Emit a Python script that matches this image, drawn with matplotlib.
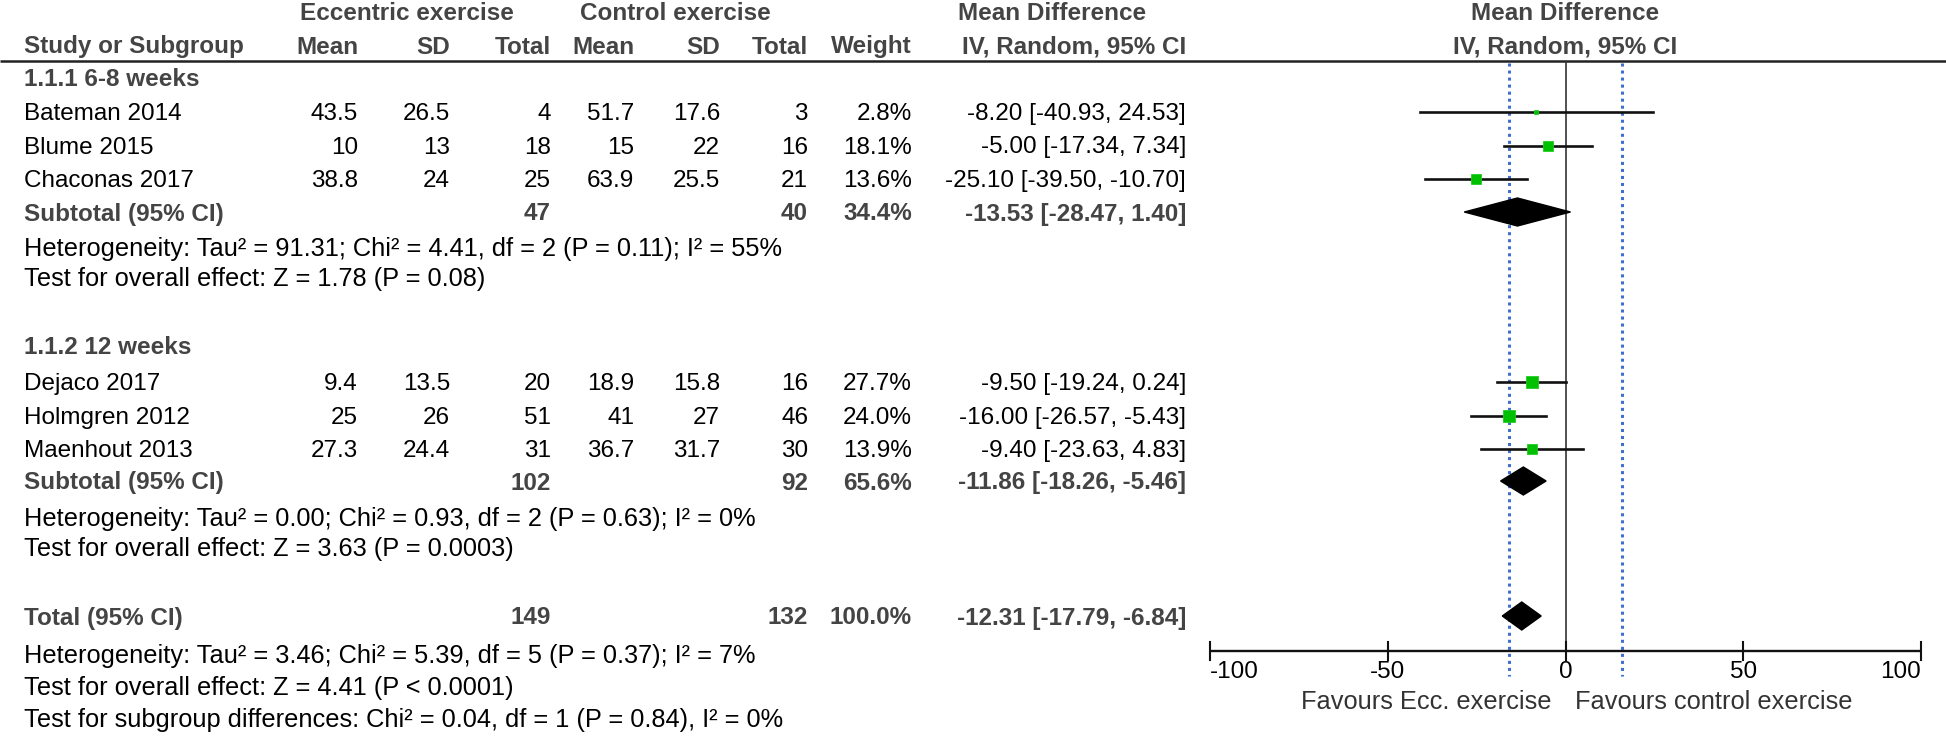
import matplotlib.pyplot as plt
from matplotlib.patches import Polygon

plt.rcParams['font.family'] = ['Liberation Sans', 'DejaVu Sans']

# Study data: eccentric exercise vs control exercise
studies = ["Bateman 2014", "Blume 2015", "Chaconas 2017",
           "Dejaco 2017", "Holmgren 2012", "Maenhout 2013"]
study_group = [0, 0, 0, 1, 1, 1]
ecc_mean = [43.5, 10, 38.8, 9.4, 25, 27.3]
ecc_sd = [26.5, 13, 24, 13.5, 26, 24.4]
ecc_n = [4, 18, 25, 20, 51, 31]
ctl_mean = [51.7, 15, 63.9, 18.9, 41, 36.7]
ctl_sd = [17.6, 22, 25.5, 15.8, 27, 31.7]
ctl_n = [3, 16, 21, 16, 46, 30]
weight = [2.8, 18.1, 13.6, 27.7, 24.0, 13.9]
md = [-8.20, -5.00, -25.10, -9.50, -16.00, -9.40]
ci_lo = [-40.93, -17.34, -39.50, -19.24, -26.57, -23.63]
ci_hi = [24.53, 7.34, -10.70, 0.24, -5.43, 4.83]

# Subgroups
groups = ["1.1.1 6-8 weeks", "1.1.2 12 weeks"]
sub_ecc_n = [47, 102]
sub_ctl_n = [40, 92]
sub_weight = [34.4, 65.6]
sub_md = [-13.53, -11.86]
sub_lo = [-28.47, -18.26]
sub_hi = [1.40, -5.46]
sub_het = ["Heterogeneity: Tau\u00b2 = 91.31; Chi\u00b2 = 4.41, df = 2 (P = 0.11); I\u00b2 = 55%",
           "Heterogeneity: Tau\u00b2 = 0.00; Chi\u00b2 = 0.93, df = 2 (P = 0.63); I\u00b2 = 0%"]
sub_test = ["Test for overall effect: Z = 1.78 (P = 0.08)",
            "Test for overall effect: Z = 3.63 (P = 0.0003)"]

# Overall
tot_ecc_n = 149
tot_ctl_n = 132
tot_weight = 100.0
tot_md, tot_lo, tot_hi = -12.31, -17.79, -6.84
tot_notes = ["Heterogeneity: Tau\u00b2 = 3.46; Chi\u00b2 = 5.39, df = 5 (P = 0.37); I\u00b2 = 7%",
             "Test for overall effect: Z = 4.41 (P < 0.0001)",
             "Test for subgroup differences: Chi\u00b2 = 0.04, df = 1 (P = 0.84), I\u00b2 = 0%"]

ref_lines = [-16, 16]
ticks = [-100, -50, 0, 50, 100]

# ---- layout (pixel rows / columns) ----
W, H = 1946, 736
FS = 17.5
FS_NOTE = 18.3
BOLD_C = '#444444'
col_right = [358, 450, 551, 634, 720, 808, 912, 1186]
head_y = [80, 347]
study_y = [112, 145.5, 179, 382, 415.7, 449.3]
sub_y = [212, 481]
het_y = [249, 519]
test_y = [279, 549]
tot_y = 616
note_y = [656, 688, 720]
axis_y = 651
dy = 2  # text sits a bit lower than the marks

fig = plt.figure(figsize=(W / 100, H / 100), dpi=100)
tab = fig.add_axes([0, 0, 1, 1])
tab.set_xlim(0, W)
tab.set_ylim(H, 0)
tab.axis('off')

x0, x1 = 1210, 1921
fp = fig.add_axes([x0 / W, 0, (x1 - x0) / W, 1])
fp.set_xlim(-100, 100)
fp.set_ylim(H, 0)
fp.axis('off')


def txt(x, y, s, ha='left', bold=False, color=None, size=FS):
    tab.text(x, y, s, ha=ha, va='center', fontsize=size,
             fontweight='bold' if bold else 'normal',
             color=color or (BOLD_C if bold else 'black'))


def ci_str(m, lo, hi):
    return f"{m:.2f} [{lo:.2f}, {hi:.2f}]"


# headers
txt(407, 14, "Eccentric exercise", ha='center', bold=True)
txt(675, 14, "Control exercise", ha='center', bold=True)
txt(1052, 14, "Mean Difference", ha='center', bold=True)
txt(24, 47, "Study or Subgroup", bold=True)
for x, s in zip(col_right, ["Mean", "SD", "Total", "Mean", "SD", "Total", "Weight",
                            "IV, Random, 95% CI"]):
    txt(x, 47, s, ha='right', bold=True)
fp.text(0, 14, "Mean Difference", ha='center', va='center', fontsize=FS,
        fontweight='bold', color=BOLD_C)
fp.text(0, 47, "IV, Random, 95% CI", ha='center', va='center', fontsize=FS,
        fontweight='bold', color=BOLD_C)
tab.plot([0, W], [61, 61], color='#222222', lw=1.8, solid_capstyle='butt')

# reference lines
fp.plot([0, 0], [62, axis_y], color='#333333', lw=1.2)
for r in ref_lines:
    fp.plot([r, r], [63, 676], color='#3f6fcf', lw=2.2, linestyle=(0, (1, 1.3)))

# studies
for i, name in enumerate(studies):
    y = study_y[i]
    txt(24, y + dy, name)
    vals = [f"{ecc_mean[i]:g}", f"{ecc_sd[i]:g}", str(ecc_n[i]),
            f"{ctl_mean[i]:g}", f"{ctl_sd[i]:g}", str(ctl_n[i]),
            f"{weight[i]:.1f}%", ci_str(md[i], ci_lo[i], ci_hi[i])]
    for x, s in zip(col_right, vals):
        txt(x, y + dy, s, ha='right')
    fp.plot([ci_lo[i], ci_hi[i]], [y, y], color='#111111', lw=1.9)
    side = 2.45 * weight[i] ** 0.5
    fp.plot(md[i], y, marker='s', markersize=side * 0.72, color='#00c000',
            markeredgecolor='#22cc22', markeredgewidth=0.6, zorder=3)


def diamond(m, lo, hi, y, h=14):
    fp.add_patch(Polygon([(lo, y), (m, y - h), (hi, y), (m, y + h)],
                         closed=True, facecolor='black', edgecolor='black',
                         lw=1, zorder=4))


# subgroups
for g, gname in enumerate(groups):
    txt(24, head_y[g], gname, bold=True)
    y = sub_y[g]
    txt(24, y + dy, "Subtotal (95% CI)", bold=True)
    txt(col_right[2], y + dy, str(sub_ecc_n[g]), ha='right', bold=True)
    txt(col_right[5], y + dy, str(sub_ctl_n[g]), ha='right', bold=True)
    txt(col_right[6], y + dy, f"{sub_weight[g]:.1f}%", ha='right', bold=True)
    txt(col_right[7], y + dy, ci_str(sub_md[g], sub_lo[g], sub_hi[g]), ha='right', bold=True)
    diamond(sub_md[g], sub_lo[g], sub_hi[g], y)
    txt(24, het_y[g], sub_het[g], size=FS_NOTE)
    txt(24, test_y[g], sub_test[g], size=FS_NOTE)

# total
txt(24, tot_y + dy, "Total (95% CI)", bold=True)
txt(col_right[2], tot_y + dy, str(tot_ecc_n), ha='right', bold=True)
txt(col_right[5], tot_y + dy, str(tot_ctl_n), ha='right', bold=True)
txt(col_right[6], tot_y + dy, f"{tot_weight:.1f}%", ha='right', bold=True)
txt(col_right[7], tot_y + dy, ci_str(tot_md, tot_lo, tot_hi), ha='right', bold=True)
diamond(tot_md, tot_lo, tot_hi, tot_y)
for y, s in zip(note_y, tot_notes):
    txt(24, y, s, size=FS_NOTE)

# x axis of the forest plot
fp.plot([ticks[0], ticks[-1]], [axis_y, axis_y], color='#111111', lw=1.7,
        solid_capstyle='butt', clip_on=False)
for t in ticks:
    fp.plot([t, t], [axis_y - 9, axis_y + 9], color='#111111', lw=1.5, clip_on=False)
    ha = 'left' if t == ticks[0] else ('right' if t == ticks[-1] else 'center')
    fp.text(t, 672, f"{t}", ha=ha, va='center', fontsize=FS, color='black', clip_on=False)
fp.text(-4, 702, "Favours Ecc. exercise", ha='right', va='center', fontsize=FS_NOTE, color='#333333')
fp.text(2.6, 702, "Favours control exercise", ha='left', va='center', fontsize=FS_NOTE, color='#333333')

fig.savefig('out.png', dpi=100)
